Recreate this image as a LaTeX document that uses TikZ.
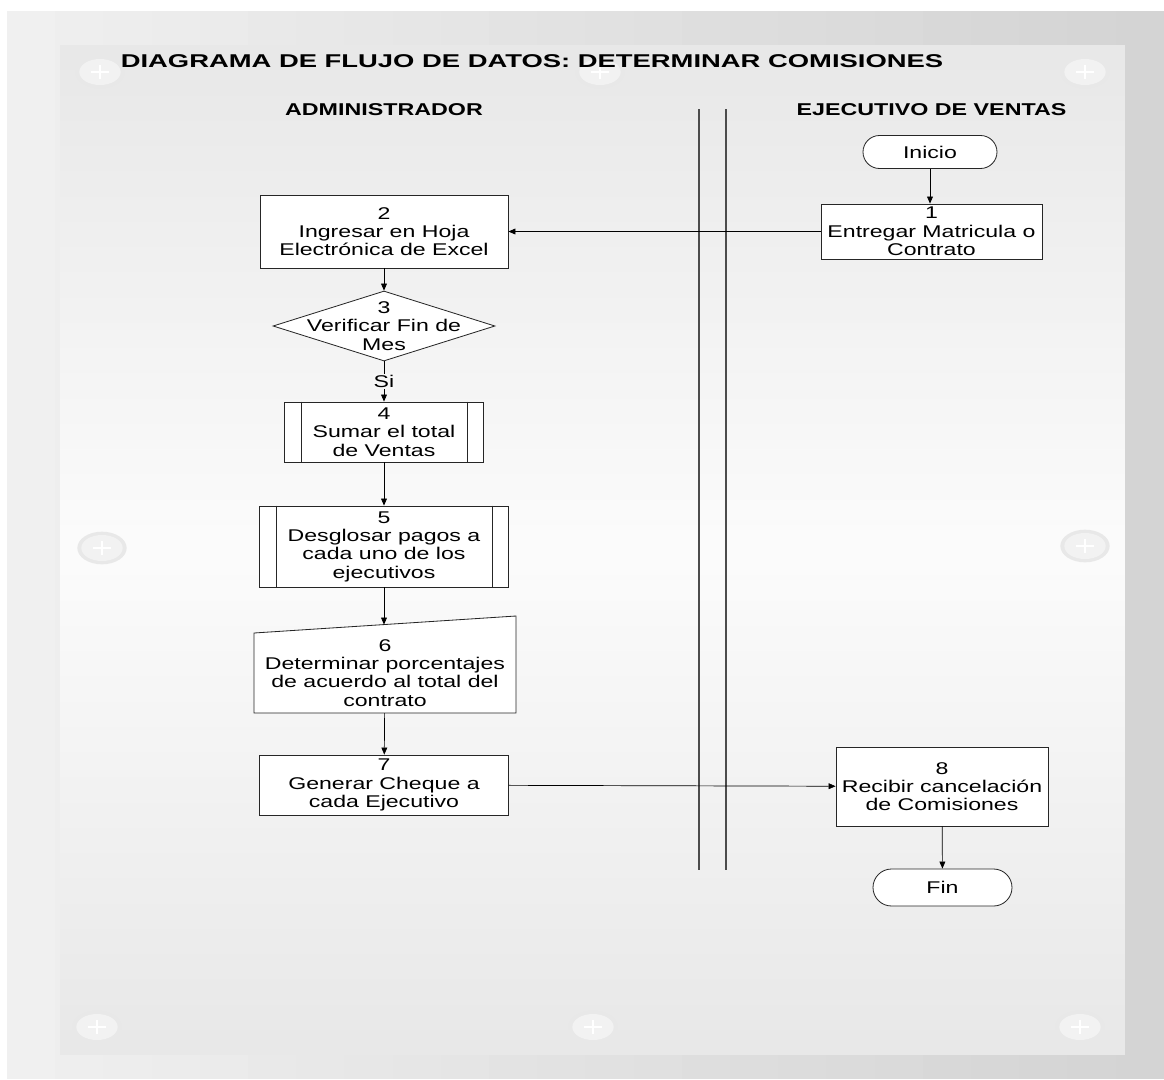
\documentclass[tikz,border=0pt]{standalone}
\usepackage{fontspec}
\setmainfont[FakeStretch=1.36]{Liberation Sans}
\newfontfamily\titlefont[FakeStretch=1.48]{Liberation Sans}
\usepackage{tikz}
\usetikzlibrary{shapes, arrows.meta, positioning, calc}
\newcommand{\boxfont}{\fontsize{14.5pt}{15.6pt}\selectfont}
\newcommand{\lanefont}{\fontsize{14.6pt}{16pt}\selectfont\bfseries}

\begin{document}
\begin{tikzpicture}[x=0.03cm, y=-0.03cm,
  proc/.style={draw=black!85, line width=0.7pt, fill=white, align=center, inner sep=0pt, font=\boxfont},
  term/.style={proc, rounded rectangle},
  decision/.style={proc, diamond},
  flow/.style={-{Triangle[length=6pt, width=5pt]}, line width=0.6pt},
  lanetitle/.style={font=\lanefont},
  divider/.style={line width=1.7pt, black!70}]
\useasboundingbox (0,0) rectangle (1164,1079);

% background panels
\fill[white] (0,0) rectangle (1164,1079);
\foreach \i in {0,...,23} {
  \pgfmathtruncatemacro\bandval{240-28*\i/23}
  \definecolor{bandcol}{RGB}{\bandval,\bandval,\bandval}
  \fill[bandcol] (7+\i*48.2,11) rectangle (7+\i*48.2+48.5,1079);
}
\foreach \i in {0,...,39} {
  \pgfmathtruncatemacro\bandval{232+20*(1-abs(\i-19.5)/19.5)}
  \definecolor{bandcol}{RGB}{\bandval,\bandval,\bandval}
  \fill[bandcol] (60,45+\i*25.25) rectangle (1125,45+\i*25.25+25.5);
}

% screw heads
\foreach \sx/\sy in {100/72, 600/72, 1085/72, 102/548, 1085/546, 97/1027, 593/1027, 1080/1027} {
  \fill[black!9] (\sx,\sy) ellipse [x radius=0.74cm, y radius=0.49cm];
  \fill[black!5] (\sx,\sy) ellipse [x radius=0.62cm, y radius=0.39cm];
  \draw[white, line width=1.2pt] (\sx-9,\sy) -- (\sx+9,\sy) (\sx,\sy-7) -- (\sx,\sy+7);
}

% titles
\node[font=\titlefont\bfseries\fontsize{15.8pt}{18pt}\selectfont] (title) at (532,61.5) {DIAGRAMA DE FLUJO DE DATOS: DETERMINAR COMISIONES};
\node[lanetitle] (admin) at (384,109.5) {ADMINISTRADOR};
\node[lanetitle] (ejec) at (931.5,109.5) {EJECUTIVO DE VENTAS};

% lane separator
\draw[divider] (699,109) -- (699,870);
\draw[divider] (726,109) -- (726,870);

% right lane
\node[term, minimum width=4.02cm, minimum height=0.99cm] (inicio) at (930,152) {Inicio};
\node[proc, minimum width=6.63cm, minimum height=1.65cm] (e1) at (931.5,231.5) {1\\Entregar Matricula o\\Contrato};
\node[proc, minimum width=6.36cm, minimum height=2.37cm] (e8) at (942,786.5) {8\\Recibir cancelación\\de Comisiones};
\node[term, minimum width=4.17cm, minimum height=1.11cm] (fin) at (942.5,887.5) {Fin};

% left lane
\node[proc, minimum width=7.44cm, minimum height=2.19cm] (a2) at (384,231.5) {2\\Ingresar en Hoja\\Electrónica de Excel};
\node[decision, minimum width=6.66cm, minimum height=2.1cm,
  label={[font=\boxfont, align=center]center:{3\\Verificar Fin de\\Mes}}] (a3) at (384,326) {};
\node[proc, minimum width=5.97cm, minimum height=1.8cm] (a4) at (384,432) {4\\Sumar el total\\de Ventas};
\node[proc, minimum width=7.47cm, minimum height=2.43cm] (a5) at (384,546.5) {5\\Desglosar pagos a\\cada uno de los\\ejecutivos};
\foreach \n in {a4, a5}
  \draw[draw=black!85, line width=0.7pt] ($(\n.north west)+(17,0)$) -- ($(\n.south west)+(17,0)$)
    ($(\n.north east)+(-17,0)$) -- ($(\n.south east)+(-17,0)$);

% manual input
\coordinate (a6c) at (385,673);
\draw[draw=black!85, line width=0.7pt, fill=white] ($(a6c)+(-131,40)$) -- ($(a6c)+(131,40)$)
  -- ($(a6c)+(131,-57)$) -- ($(a6c)+(-131,-40)$) -- cycle;
\coordinate (a6in) at ($(a6c)+(-1,-48.4)$);
\node[minimum width=7.86cm, minimum height=2.4cm, inner sep=0pt, align=center, font=\boxfont] (a6) at (a6c) {6\\Determinar porcentajes\\de acuerdo al total del\\contrato};

\node[proc, minimum width=7.47cm, minimum height=1.8cm] (a7) at (384,785) {7\\Generar Cheque a\\cada Ejecutivo};

% connectors
\draw[flow] (inicio.south) -- (inicio.south |- e1.north);
\draw[flow] (e1) -- (a2);
\draw[flow] (a2) -- (a3);
\draw[flow] (a3) -- node[fill=black!3, inner sep=1pt, font=\boxfont] (si) {Si} (a4);
\draw[flow] (a4) -- (a5);
\draw[flow] (a5.south) -- (a5.south |- a6in);
\draw[flow] (a6) -- (a7);
\draw[flow] (a7) -- (e8);
\draw[flow] (e8) -- (fin);
\end{tikzpicture}
\end{document}
